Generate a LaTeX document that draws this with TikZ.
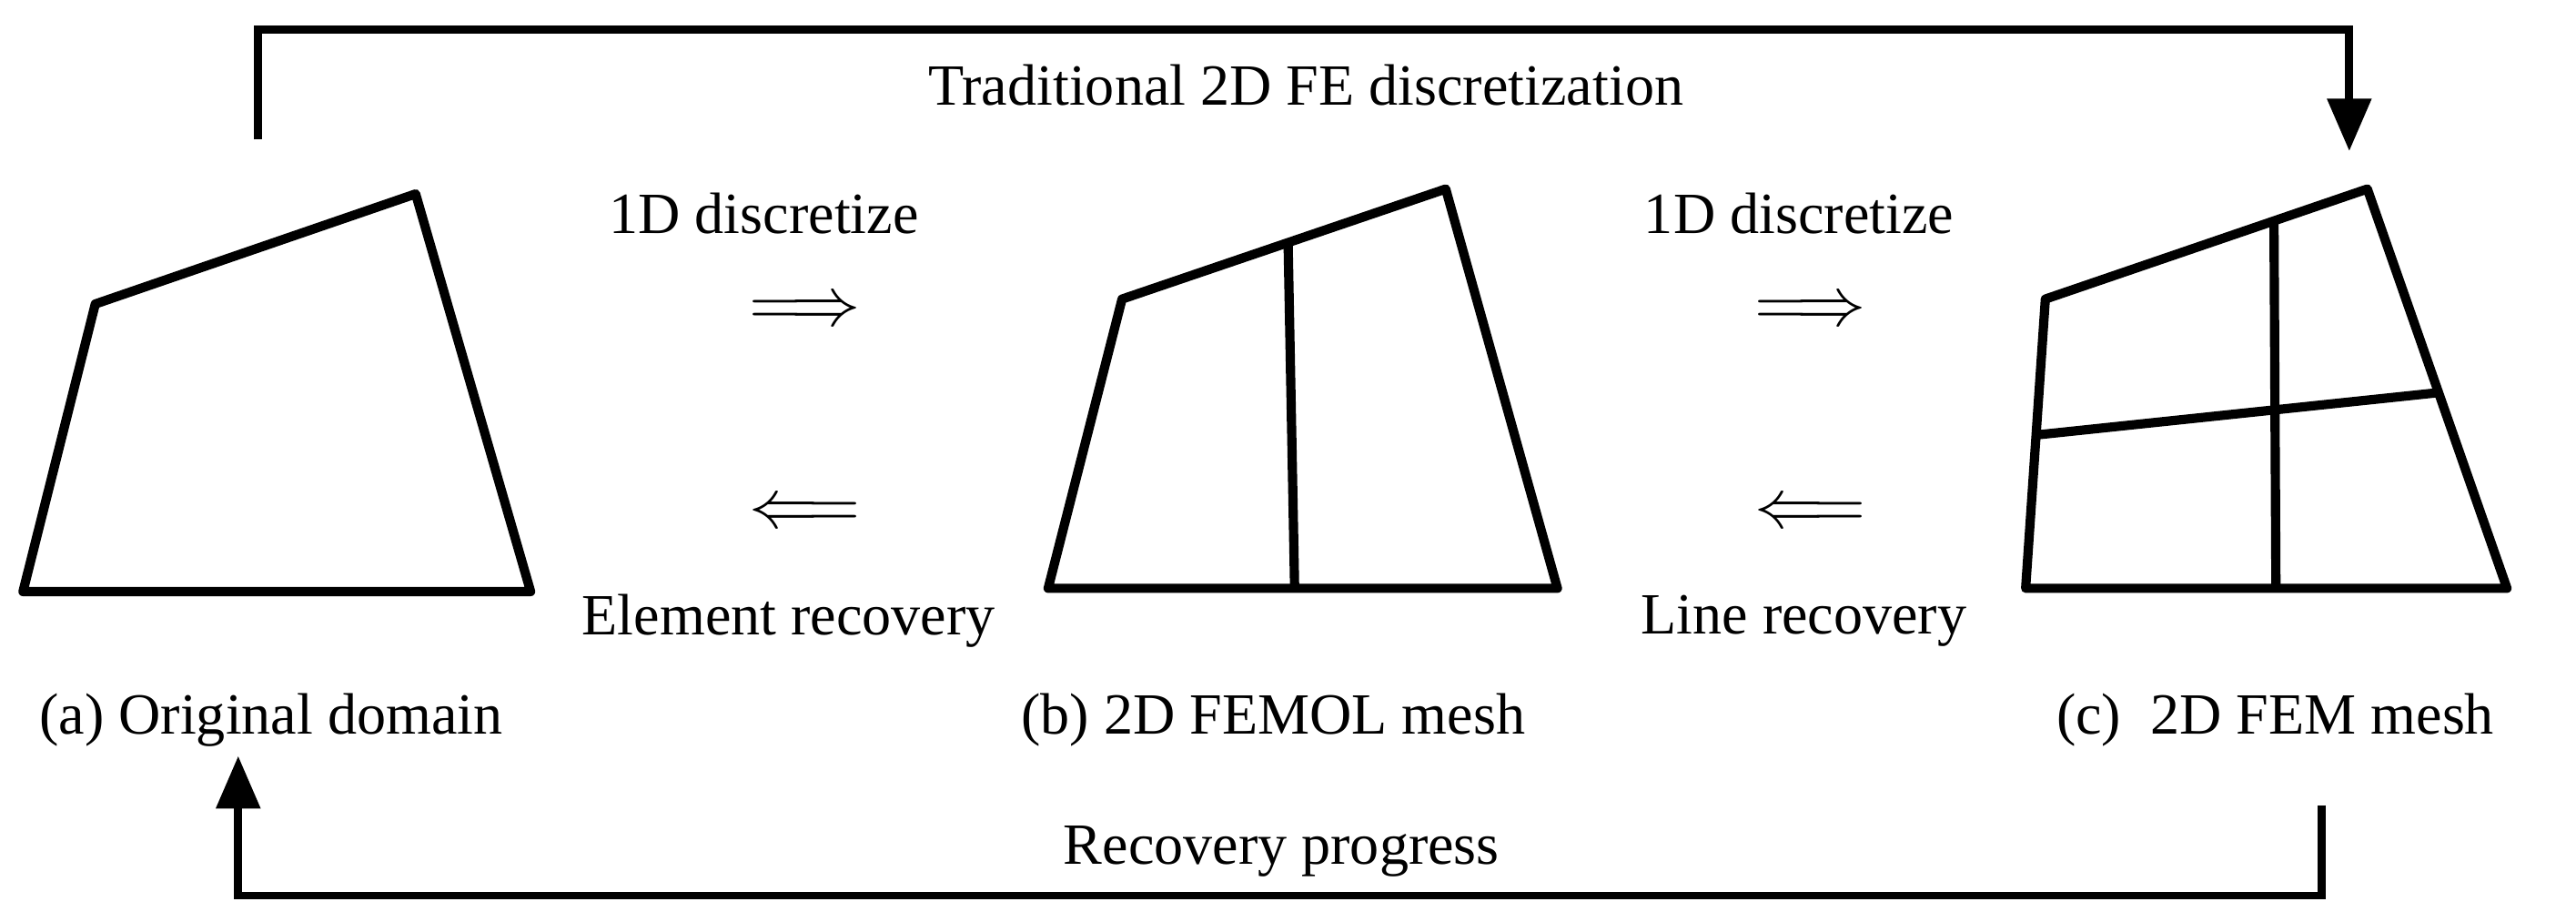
\documentclass[tikz,border=0pt]{standalone}
\usepackage{fontspec}
\setmainfont{Liberation Serif}
\usetikzlibrary{arrows.meta,calc}
\tikzset{
  edge/.style = {line width = 1.6pt, line join = round},
  flow/.style = {line width = 1.4pt, -{Triangle[length=3.2mm,width=2.6mm]}},
  lbl/.style  = {font=\fontsize{10.1}{11}\selectfont, inner sep = 0pt},
  sym/.style  = {font=\fontsize{11.5}{12}\selectfont, inner sep = 0pt}
}
\begin{document}
\begin{tikzpicture}[x=0.01cm,y=-0.01cm]
  \useasboundingbox (0,0) rectangle (1568,561);
  % (a) original domain
  \coordinate (a1) at (58,185);
  \coordinate (a2) at (253,118);
  \coordinate (a3) at (323,360);
  \coordinate (a4) at (14,360);
  \draw[edge] (a1) -- (a2) -- (a3) -- (a4) -- cycle;
  % (b) FEMOL mesh
  \coordinate (b1) at (683,182);
  \coordinate (b2) at (880,115);
  \coordinate (b3) at (948,358);
  \coordinate (b4) at (638,358);
  \coordinate (bt) at ($(b1)!0.513!(b2)$);
  \coordinate (bb) at ($(b4)!0.484!(b3)$);
  \draw[edge] (b1) -- (b2) -- (b3) -- (b4) -- cycle;
  \draw[edge] (bt) -- (bb);
  % (c) FEM mesh
  \coordinate (c1) at (1245,182);
  \coordinate (c2) at (1441,115);
  \coordinate (c3) at (1526,358);
  \coordinate (c4) at (1233,358);
  \coordinate (ct) at ($(c1)!0.71!(c2)$);
  \coordinate (cb) at ($(c4)!0.52!(c3)$);
  \coordinate (cl) at ($(c1)!0.47!(c4)$);
  \coordinate (cr) at ($(c2)!0.51!(c3)$);
  \draw[edge] (c1) -- (c2) -- (c3) -- (c4) -- cycle;
  \draw[edge] (ct) -- (cb);
  \draw[edge] (cl) -- (cr);
  % middle labels
  \node[lbl] (d1) at (465,130) {1D discretize};
  \node[sym] (f1) at (490,190) {$\Longrightarrow$};
  \node[sym] (r1) at (490,313) {$\Longleftarrow$};
  \node[lbl] (e1) at (480,378) {Element recovery};
  \node[lbl] (d2) at (1095,130) {1D discretize};
  \node[sym] (f2) at (1102,190) {$\Longrightarrow$};
  \node[sym] (r2) at (1102,313) {$\Longleftarrow$};
  \node[lbl] (e2) at (1098,378) {Line recovery};
  % captions
  \node[lbl] (capa) at (165,438) {(a) Original domain};
  \node[lbl] (capb) at (775,438) {(b) 2D FEMOL mesh};
  \node[lbl] (capc) at (1385,438) {(c)\ \ 2D FEM mesh};
  % top and bottom paths
  \coordinate (ts) at (157,85);
  \coordinate (te) at (1430,92);
  \coordinate (bs) at (1413,490);
  \coordinate (be) at (145,460);
  \draw[flow] (ts) |- (795,18) -| (te);
  \draw[flow] (bs) |- (780,545) -| (be);
  \node[lbl] (trad) at (795,52) {Traditional 2D FE discretization};
  \node[lbl] (recp) at (780,518) {Recovery progress};
\end{tikzpicture}
\end{document}
